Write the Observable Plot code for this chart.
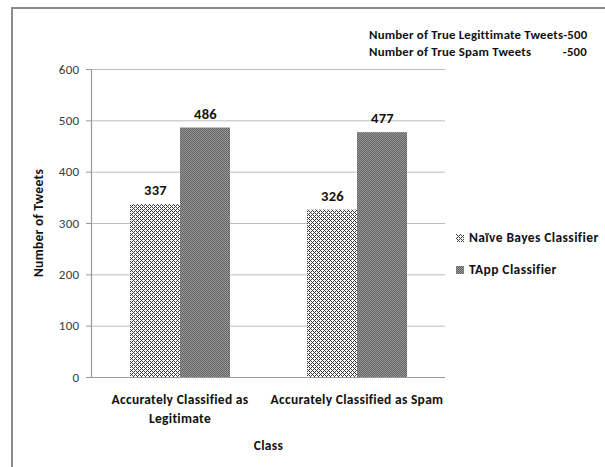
<!DOCTYPE html>
<html>
<head>
<meta charset="utf-8">
<script src="https://cdn.jsdelivr.net/npm/d3@7"></script>
<script src="https://cdn.jsdelivr.net/npm/@observablehq/plot@0.6"></script>
<style>
  body { margin: 0; background: #fff; font-family: Carlito, Lato, sans-serif; }
  #wrap { position: relative; width: 605px; height: 467px; overflow: hidden; }
  #border { position: absolute; left: 11px; top: 7px; width: 600px; height: 470px;
            border-top: 2px solid #8c8c8c; border-left: 2px solid #8c8c8c; box-sizing: border-box; }
  #note { position: absolute; left: 369px; top: 26px; width: 218px; font-weight: bold; font-size: 12.8px; letter-spacing: 0.2px; color: #111; line-height: 17px; }
  #note .row { display: flex; justify-content: space-between; white-space: nowrap; }
  #legend { position: absolute; left: 456px; top: 229px; font-weight: bold; font-size: 13.5px; letter-spacing: 0.4px; color: #111; }
  #legend .item { display: flex; align-items: center; height: 17px; margin-bottom: 15px; white-space: nowrap; }
  #legend svg { margin-right: 5px; }
  #ylabel { position: absolute; left: 38px; top: 223px; transform: translate(-50%, -50%) rotate(-90deg);
            font-weight: bold; font-size: 13.5px; letter-spacing: 0.3px; color: #111; white-space: nowrap; }
  #chart { position: absolute; left: 0; top: 0; }
</style>
</head>
<body>
<div id="wrap">
  <div id="border"></div>
  <div id="chart"></div>
  <div id="note"></div>
  <div id="legend"></div>
  <div id="ylabel"></div>
</div>
<script>
const classes = ["Accurately Classified as\nLegitimate", "Accurately Classified as Spam"];
const series = ["Naïve Bayes Classifier", "TApp Classifier"];
const naiveValues = [337, 326];
const tappValues = [486, 477];
const yTicks = [0, 100, 200, 300, 400, 500, 600];
const yLabel = "Number of Tweets";
const xLabel = "Class";
const noteLines = [["Number of True Legittimate Tweets-500", ""], ["Number of True Spam Tweets", "-500"]];

const data = [];
classes.forEach((c, i) => {
  data.push({cls: c, series: series[0], value: naiveValues[i]});
  data.push({cls: c, series: series[1], value: tappValues[i]});
});

const patternUrls = ["url(#pNaive)", "url(#pTapp)"];
const font = "Carlito, Lato, sans-serif";

const plot = Plot.plot({
  width: 605,
  height: 467,
  marginLeft: 90,
  marginRight: 160,
  marginTop: 69,
  marginBottom: 90,
  style: {fontFamily: font, background: "transparent"},
  fx: {domain: classes, padding: 0, label: xLabel},
  x: {domain: series, paddingInner: 0, paddingOuter: 0.74, axis: null},
  y: {domain: [0, 600], label: null},
  color: {domain: series, range: patternUrls},
  marks: [
    Plot.gridY(yTicks, {stroke: "#bdbdbd", strokeOpacity: 1, strokeWidth: 1}),
    Plot.barY(data, {fx: "cls", x: "series", y: "value", fill: "series"}),
    Plot.text(data, {fx: "cls", x: "series", y: "value", text: d => String(d.value), dy: -14, fontWeight: "bold", fontSize: 14.5, fill: "#111"}),
    Plot.ruleY([0], {stroke: "#9a9a9a", strokeWidth: 1.2}),
    Plot.frame({anchor: "left", facetAnchor: "left", stroke: "#9a9a9a", strokeWidth: 1.2}),
    Plot.axisY(yTicks, {anchor: "left", tickSize: 5, tickPadding: 7, stroke: "#9a9a9a", fontSize: 13, fill: "#3a3a3a", label: null}),
    Plot.axisFx({anchor: "bottom", tickSize: 0, tickPadding: 14, fontSize: 13.5, fontWeight: "bold", fill: "#111", lineHeight: 1.35,
      label: xLabel, labelAnchor: "center", labelOffset: 72})
  ]
});

const svgNS = "http://www.w3.org/2000/svg";
function addDefs(svg) {
  const defs = document.createElementNS(svgNS, "defs");
  defs.innerHTML = `
    <pattern id="pNaive" width="4" height="4" patternUnits="userSpaceOnUse">
      <rect width="4" height="4" fill="#ffffff"/>
      <rect x="0" y="0" width="1" height="1" fill="#3a3a3a"/>
      <rect x="1" y="1" width="1" height="1" fill="#3a3a3a"/>
      <rect x="2" y="2" width="1" height="1" fill="#3a3a3a"/>
      <rect x="3" y="3" width="1" height="1" fill="#3a3a3a"/>
      <rect x="1" y="3" width="1" height="1" fill="#3a3a3a"/>
      <rect x="3" y="1" width="1" height="1" fill="#3a3a3a"/>
    </pattern>
    <pattern id="pTapp" width="2" height="2" patternUnits="userSpaceOnUse">
      <rect width="2" height="2" fill="#666666"/>
      <rect x="0" y="0" width="1" height="1" fill="#959595"/>
      <rect x="1" y="1" width="1" height="1" fill="#959595"/>
    </pattern>`;
  svg.insertBefore(defs, svg.firstChild);
}
const svgEl = plot.tagName.toLowerCase() === "svg" ? plot : plot.querySelector("svg");
addDefs(svgEl);
svgEl.querySelectorAll("text").forEach(t => t.style.letterSpacing = "0.3px");
document.getElementById("chart").appendChild(plot);

document.getElementById("ylabel").textContent = yLabel;

const note = document.getElementById("note");
noteLines.forEach(([a, b]) => {
  const row = document.createElement("div");
  row.className = "row";
  row.innerHTML = `<span>${a}</span><span>${b}</span>`;
  note.appendChild(row);
});

const legend = document.getElementById("legend");
series.forEach((s, i) => {
  const item = document.createElement("div");
  item.className = "item";
  item.innerHTML = `<svg width="8" height="8"><rect width="8" height="8" fill="${patternUrls[i]}"/></svg><span>${s}</span>`;
  legend.appendChild(item);
});
</script>
</body>
</html>
